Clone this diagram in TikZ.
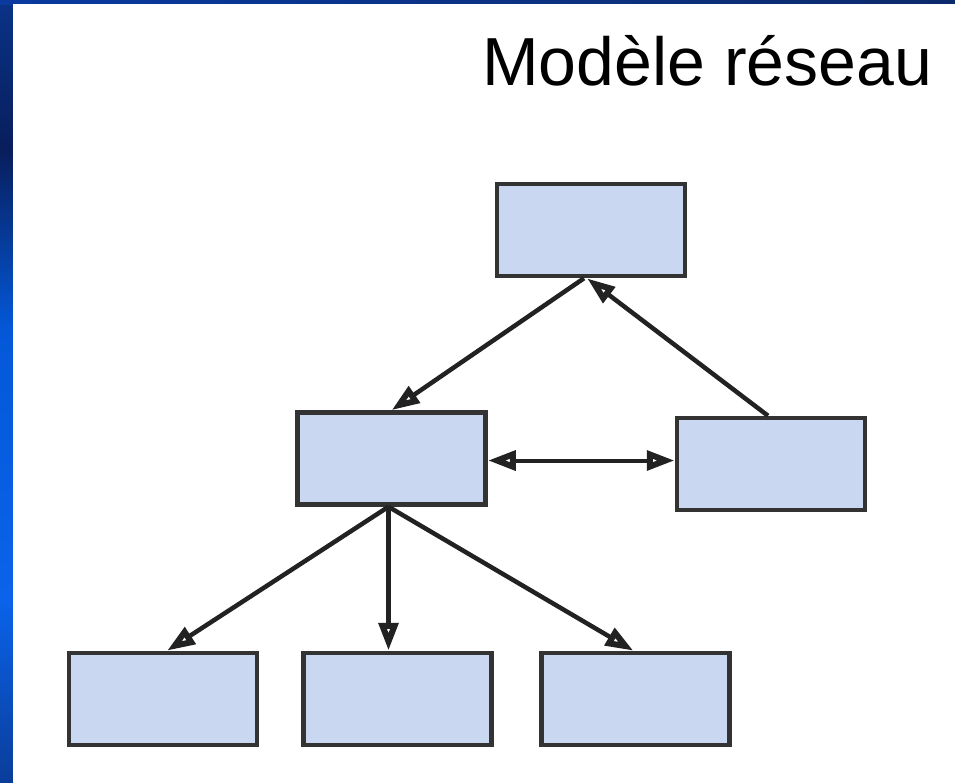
\documentclass[tikz,border=0pt]{standalone}
\usepackage{fontspec}
\setmainfont{Liberation Sans}
\usetikzlibrary{arrows.meta,calc}
\definecolor{boxfill}{HTML}{C9D8F0}
\definecolor{boxline}{HTML}{333333}
\definecolor{arrline}{HTML}{222222}
\definecolor{navyA}{HTML}{0A3388}
\definecolor{navyB}{HTML}{081E5C}
\definecolor{blueC}{HTML}{0458D8}
\definecolor{blueD}{HTML}{0A63EA}
\definecolor{blueE}{HTML}{0A3D9A}
\definecolor{topL}{HTML}{0A3AA0}
\definecolor{topR}{HTML}{0B2A6A}
\tikzset{
  nethead/.tip={Triangle[open, length=28pt, width=19pt, line width=6pt]},
  netbox/.style={rectangle, draw=boxline, line width=4.5pt, fill=boxfill,
    minimum width=188pt, minimum height=92pt, inner sep=0pt},
  netarrow/.style={draw=arrline, line width=4.5pt, -nethead},
  netboth/.style={draw=arrline, line width=4pt, nethead-nethead}
}
\begin{document}
\begin{tikzpicture}[x=1pt,y=-1pt]
\useasboundingbox (0,0) rectangle (955,782);
% blue frame
\shade[top color=navyA, bottom color=navyB] (0,0) rectangle (13,150);
\shade[top color=navyB, bottom color=blueC] (0,150) rectangle (13,330);
\shade[top color=blueC, bottom color=blueD] (0,330) rectangle (13,600);
\shade[top color=blueD, bottom color=blueE] (0,600) rectangle (13,782);
\shade[left color=topL, right color=topR] (0,0) rectangle (955,4);
\fill[white] (13,4) rectangle (955,782);
% title
\node[anchor=base west, inner sep=0pt, font=\fontsize{68}{80}\selectfont] (title) at (482,85) {Modèle réseau};
% boxes
\node[netbox] (top) at (591,230) {};
\node[netbox] (ml) at (391.5,458.5) {};
\node[netbox] (mr) at (771,464) {};
\node[netbox] (bl) at (163,699) {};
\node[netbox] (bm) at (397.5,699) {};
\node[netbox] (br) at (635.5,699) {};
% connectors
\draw[netarrow] ([xshift=-7pt]top.south) -- (ml.north);
\draw[netarrow] ([xshift=-3pt]mr.north) -- ([xshift=-4pt]top.south);
\draw[netboth] ([yshift=-2pt]ml.east) -- ([yshift=-2pt]ml.east -| mr.west);
\draw[netarrow] ([xshift=-3pt]ml.south) -- ([xshift=4pt]bl.north);
\draw[netarrow] ([xshift=-3pt]ml.south) -- ([xshift=-3pt]ml.south |- bm.north);
\draw[netarrow] ([xshift=-3pt]ml.south) -- ([xshift=-2pt]br.north);
\end{tikzpicture}
\end{document}
